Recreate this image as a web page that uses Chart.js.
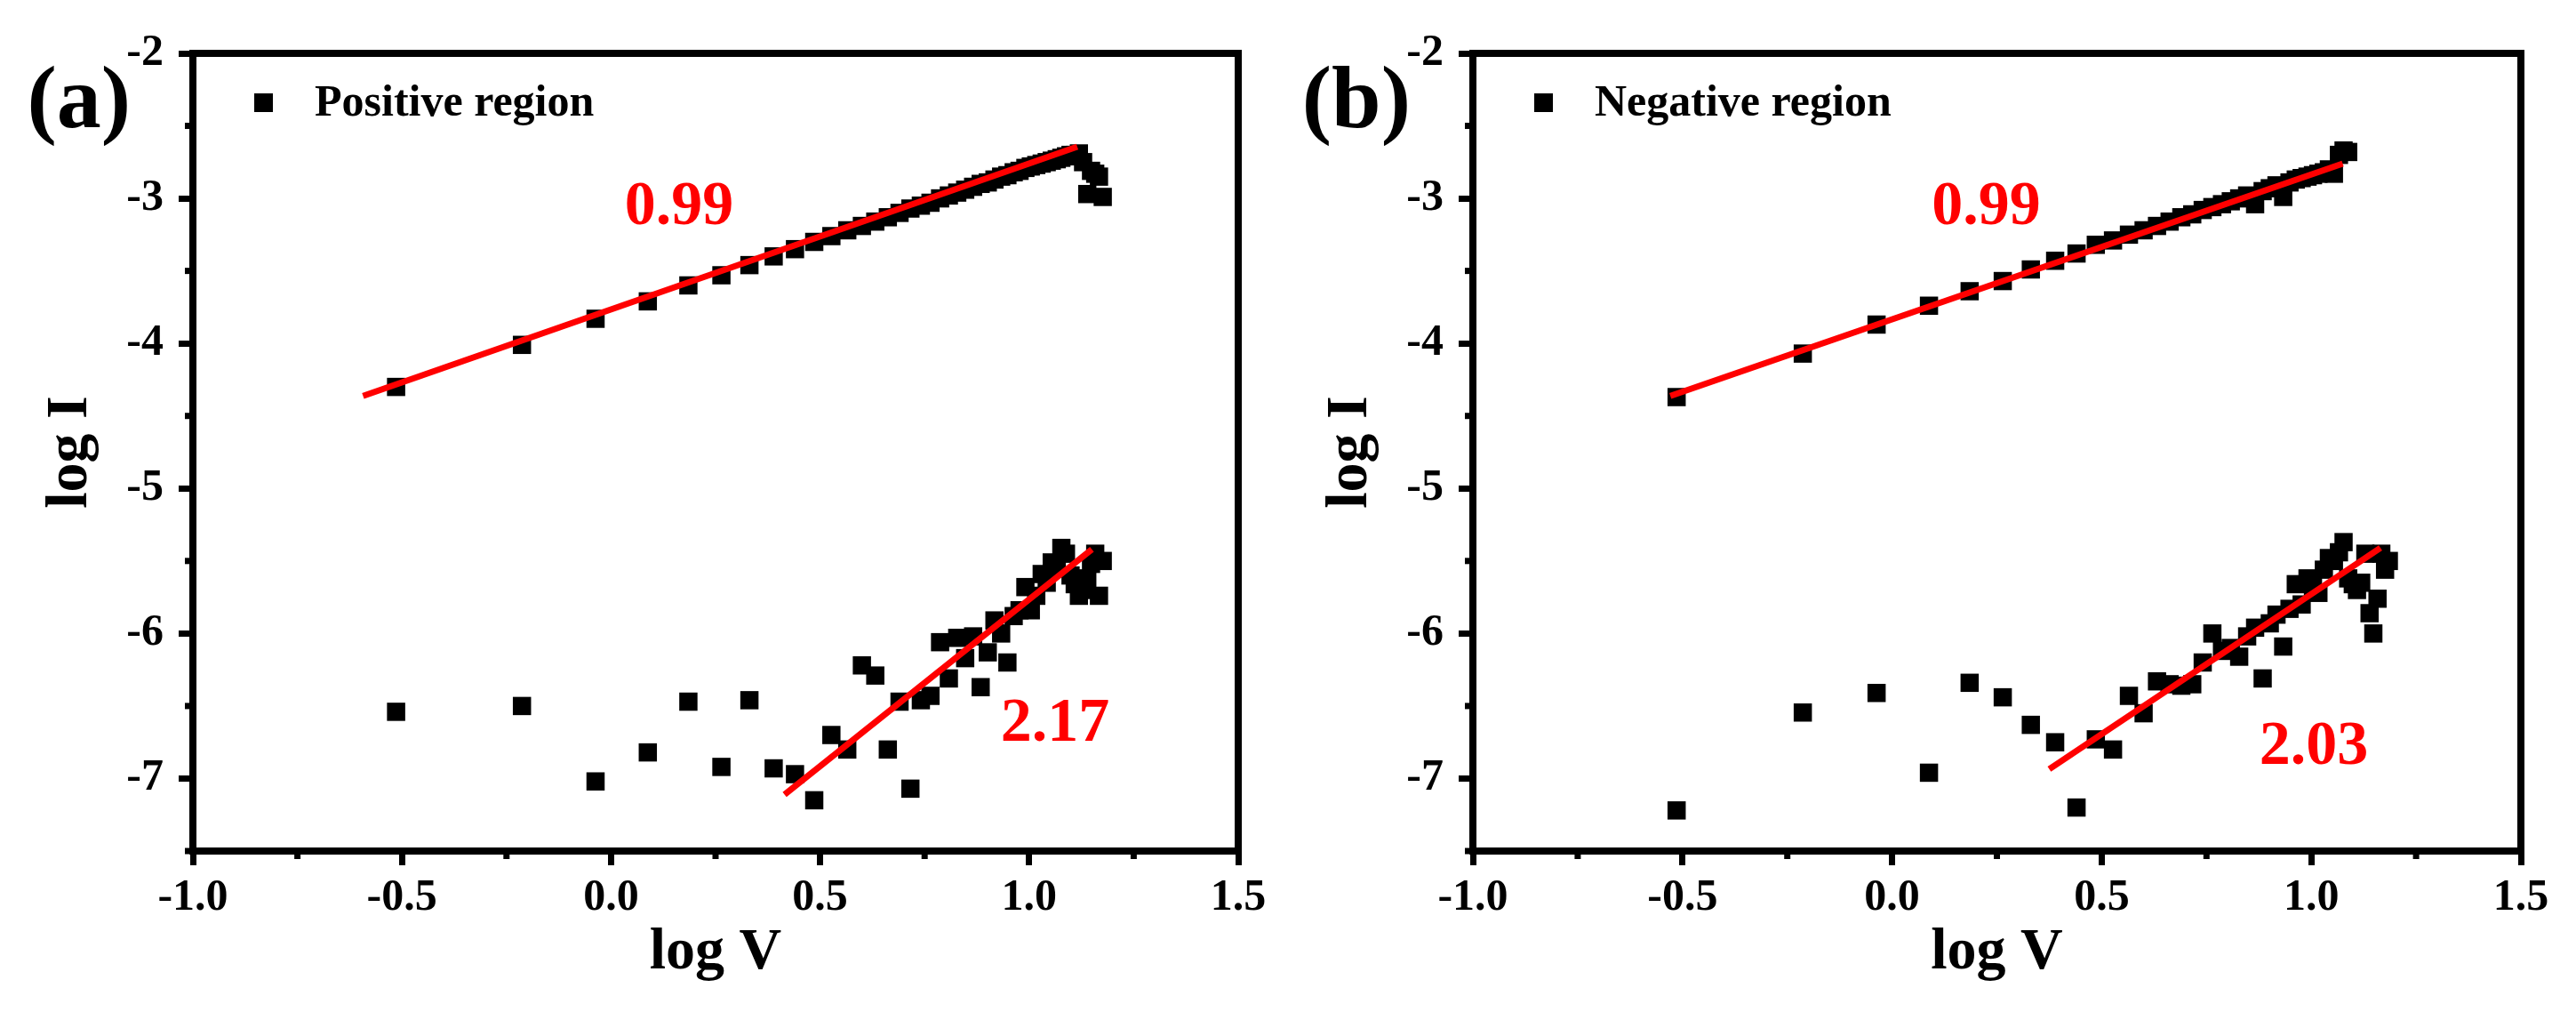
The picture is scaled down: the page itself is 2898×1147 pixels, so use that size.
<!DOCTYPE html>
<html>
<head>
<meta charset="utf-8">
<script src="https://cdn.jsdelivr.net/npm/chart.js@4.4.0/dist/chart.umd.min.js"></script>
<style>
html,body{margin:0;padding:0;background:#fff;}
#wrap{position:relative;width:2898px;height:1147px;background:#fff;}
.panel{position:absolute;top:0;width:1449px;height:1147px;}
</style>
</head>
<body>
<div id="wrap">
  <div class="panel" style="left:0px"><canvas id="ca" width="1449" height="1147"></canvas></div>
  <div class="panel" style="left:1449px"><canvas id="cb" width="1449" height="1147"></canvas></div>
</div>
<script>
// ---------- data ----------
const logV = [-0.514, -0.213, -0.037, 0.088, 0.185, 0.264, 0.331, 0.389, 0.440, 0.486,
  0.527, 0.565, 0.600, 0.632, 0.662, 0.690, 0.716, 0.741, 0.764, 0.787,
  0.808, 0.828, 0.847, 0.866, 0.884, 0.901, 0.917, 0.933, 0.948, 0.963,
  0.977, 0.991, 1.004, 1.017, 1.030, 1.042, 1.054, 1.066, 1.077, 1.088,
  1.099, 1.109, 1.119, 1.129, 1.139, 1.148, 1.158, 1.167, 1.176, 1.185];

// (a) Positive region
const posUpper = [-4.30, -4.01, -3.83, -3.71, -3.60, -3.53, -3.46, -3.40, -3.35, -3.30,
  -3.26, -3.22, -3.19, -3.16, -3.13, -3.10, -3.07, -3.05, -3.03, -3.00,
  -2.98, -2.96, -2.94, -2.92, -2.90, -2.89, -2.87, -2.85, -2.84, -2.82,
  -2.81, -2.79, -2.78, -2.77, -2.76, -2.75, -2.74, -2.73, -2.72, -2.71,
  -2.70, -2.70, -2.69, -2.75, -2.97, -2.81, -2.83, -2.85, -2.99];
const posLower = [-6.54, -6.50, -7.02, -6.82, -6.47, -6.92, -6.46, -6.93, -6.97, -7.15,
  -6.70, -6.80, -6.22, -6.29, -6.80, -6.47, -7.07, -6.46, -6.43, -6.06,
  -6.31, -6.03, -6.17, -6.02, -6.37, -6.13, -5.91, -6.00, -6.20, -5.88,
  -5.84, -5.68, -5.84, -5.74, -5.59, -5.65, -5.51, -5.55, -5.41, -5.45,
  -5.60, -5.66, -5.74, -5.70, -5.62, -5.52, -5.45, -5.74, -5.50];

// (b) Negative region
const negUpper = [-4.37, -4.07, -3.87, -3.74, -3.64, -3.57, -3.49, -3.43, -3.38, -3.32,
  -3.29, -3.25, -3.22, -3.19, -3.16, -3.13, -3.11, -3.08, -3.06, -3.04,
  -3.02, -3.00, -2.98, -3.04, -2.95, -2.93, -2.91, -2.99, -2.89, -2.87,
  -2.86, -2.85, -2.84, -2.83, -2.82, -2.80, -2.83, -2.70, -2.67, -2.68];
const negLower = [-7.22, -6.545, -6.41, -6.96, -6.34, -6.44, -6.63, -6.75, -7.20, -6.73,
  -6.80, -6.43, -6.55, -6.33, -6.35, -6.36, -6.35, -6.20, -6.00, -6.12,
  -6.10, -6.16, -6.02, -5.96, -6.31, -5.93, -5.87, -6.09, -5.83, -5.66,
  -5.80, -5.62, -5.68, -5.72, -5.56, -5.48, -5.50, -5.44, -5.37, -5.62,
  -5.66, -5.70, -5.65, -5.45, -5.86, -6.00, -5.76, -5.45, -5.56, -5.50];

// fitted lines (end points)
const fitPosUpper = [[-0.593, -4.362], [1.115, -2.644]];
const fitPosLower = [[0.415, -7.11], [1.150, -5.42]];
const fitNegUpper = [[-0.529, -4.362], [1.075, -2.76]];
const fitNegLower = [[0.375, -6.935], [1.165, -5.41]];

// slope labels
const notesPos = [{text: '0.99', x: 0.163, y: -3.177}, {text: '2.17', x: 1.062, y: -6.739}];
const notesNeg = [{text: '0.99', x: 0.2245, y: -3.177}, {text: '2.03', x: 1.006, y: -6.90}];

// axis ticks
const xMajor = [-1.0, -0.5, 0.0, 0.5, 1.0, 1.5];
const xMinor = [-0.75, -0.25, 0.25, 0.75, 1.25];
const yMajor = [-7, -6, -5, -4, -3, -2];
const yMinor = [-7.5, -6.5, -5.5, -4.5, -3.5, -2.5];

// ---------- drawing ----------
const FONT = '"Liberation Serif", "Times New Roman", serif';
const RED = '#ff0000';

function decorPlugin(tag, legendText, notes) {
  return {
    id: 'decor',
    afterDraw(chart) {
      const {ctx, chartArea: a, scales: {x, y}} = chart;
      ctx.save();
      // frame
      ctx.strokeStyle = '#000';
      ctx.lineWidth = 8;
      ctx.strokeRect(a.left, a.top, a.right - a.left, a.bottom - a.top);
      // minor ticks
      ctx.lineWidth = 7;
      xMinor.forEach(v => {
        const px = x.getPixelForValue(v);
        ctx.beginPath(); ctx.moveTo(px, a.bottom); ctx.lineTo(px, a.bottom + 9); ctx.stroke();
      });
      yMinor.forEach(v => {
        const py = y.getPixelForValue(v);
        ctx.beginPath(); ctx.moveTo(a.left, py); ctx.lineTo(a.left - 9, py); ctx.stroke();
      });
      // slope labels
      ctx.fillStyle = RED;
      ctx.font = 'bold 70px ' + FONT;
      ctx.textAlign = 'center';
      ctx.textBaseline = 'alphabetic';
      notes.forEach(n => ctx.fillText(n.text, x.getPixelForValue(n.x), y.getPixelForValue(n.y)));
      // legend
      ctx.fillStyle = '#000';
      ctx.fillRect(a.left + 69, 105, 21, 21);
      ctx.font = 'bold 50px ' + FONT;
      ctx.textAlign = 'left';
      ctx.fillText(legendText, a.left + 137, 130);
      // panel tag
      ctx.font = 'bold 100px ' + FONT;
      ctx.textAlign = 'right';
      ctx.fillText(tag, a.left - 70, 143);
      ctx.restore();
    }
  };
}

function pts(ys) { return ys.map((v, i) => ({x: logV[i], y: v})); }
function seg(p) { return p.map(q => ({x: q[0], y: q[1]})); }

function makeChart(id, o) {
  const tickFont = {family: FONT, size: 50, weight: 'bold'};
  const titleFont = {family: FONT, size: 66, weight: 'bold'};
  const scatterStyle = {pointStyle: 'rect', pointRadius: 14.5, pointHoverRadius: 14.5,
    backgroundColor: '#000', borderWidth: 0, order: 1};
  const lineStyle = {type: 'line', borderColor: RED, borderWidth: 7, pointRadius: 0,
    pointHoverRadius: 0, fill: false, order: 0, borderCapStyle: 'butt', tension: 0};
  return new Chart(document.getElementById(id), {
    type: 'scatter',
    data: {
      datasets: [
        Object.assign({label: 'fit upper', data: seg(o.fitU)}, lineStyle),
        Object.assign({label: 'fit lower', data: seg(o.fitL)}, lineStyle),
        Object.assign({label: o.legend, data: pts(o.upper)}, scatterStyle),
        Object.assign({label: o.legend + ' low', data: pts(o.lower)}, scatterStyle)
      ]
    },
    options: {
      responsive: false,
      animation: false,
      devicePixelRatio: 1,
      layout: {padding: {top: 60, right: o.padRight, left: 0, bottom: 0}},
      plugins: {legend: {display: false}, tooltip: {enabled: false}},
      scales: {
        x: {
          type: 'linear', min: -1, max: 1.5,
          afterBuildTicks(s) { s.ticks = xMajor.map(v => ({value: v})); },
          afterFit(s) { s.height = 190; },
          ticks: {callback: v => Number(v).toFixed(1), font: tickFont, color: '#000', padding: 7, maxRotation: 0, autoSkip: false},
          grid: {display: true, drawOnChartArea: false, drawTicks: true, tickLength: 16, tickWidth: 7, tickColor: '#000'},
          border: {display: true, width: 8, color: '#000'},
          title: {display: true, text: 'log V', font: titleFont, color: '#000', padding: {top: 0, bottom: 35}}
        },
        y: {
          type: 'linear', min: -7.5, max: -2,
          afterBuildTicks(s) { s.ticks = yMajor.map(v => ({value: v})); },
          afterFit(s) { s.width = o.left; },
          ticks: {callback: v => String(v), font: tickFont, color: '#000', padding: 17, autoSkip: false},
          grid: {display: true, drawOnChartArea: false, drawTicks: true, tickLength: 16, tickWidth: 7, tickColor: '#000'},
          border: {display: true, width: 8, color: '#000'},
          title: {display: true, text: 'log I', font: titleFont, color: '#000', padding: {top: o.left - 137 - 39.6, bottom: 0}}
        }
      }
    },
    plugins: [decorPlugin(o.tag, o.legend, o.notes)]
  });
}

makeChart('ca', {tag: '(a)', legend: 'Positive region', upper: posUpper, lower: posLower,
  fitU: fitPosUpper, fitL: fitPosLower, notes: notesPos, left: 217, padRight: 56});
makeChart('cb', {tag: '(b)', legend: 'Negative region', upper: negUpper, lower: negLower,
  fitU: fitNegUpper, fitL: fitNegLower, notes: notesNeg, left: 208, padRight: 62});
</script>
</body>
</html>
